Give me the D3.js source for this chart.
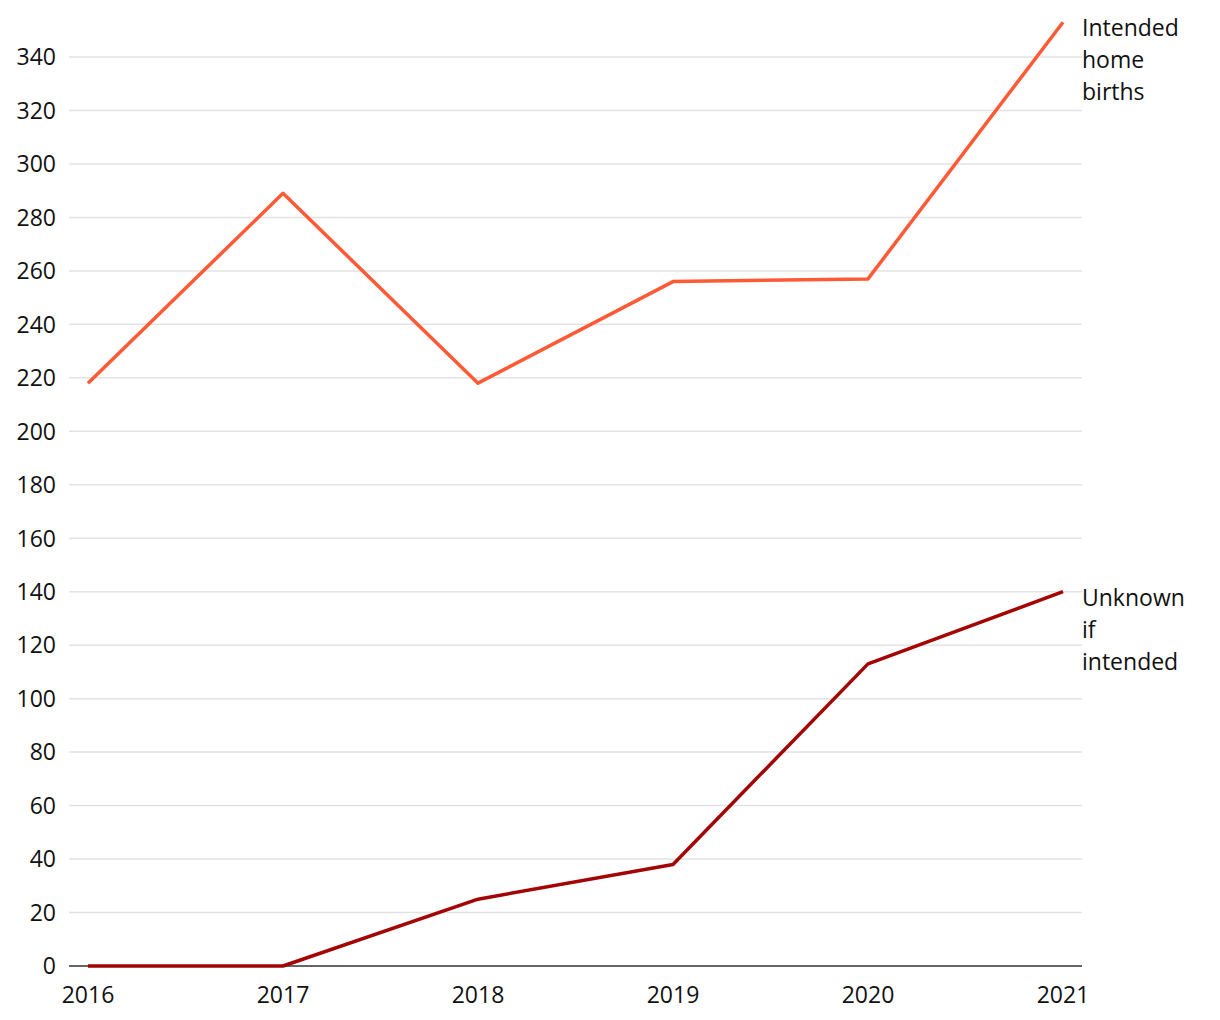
<!DOCTYPE html>
<html><head><meta charset="utf-8">
<script src="https://cdn.jsdelivr.net/npm/d3@7"></script>
<style>
body{margin:0;background:#fff;}
svg text{font-family:"Open Sans",Lato,sans-serif;fill:#111;}
</style></head>
<body><svg id="c" width="1220" height="1020"></svg>
<script>
const years = [2016, 2017, 2018, 2019, 2020, 2021];
const intended = [218, 289, 218, 256, 257, 353];
const unknown = [0, 0, 25, 38, 113, 140];
const yTicks = [0,20,40,60,80,100,120,140,160,180,200,220,240,260,280,300,320,340];
const seriesNames = [["Intended","home","births"],["Unknown","if","intended"]];
const colors = ["#ff5a36","#a30505"];

const svg = d3.select("#c");
const x = d3.scaleLinear().domain([2016,2021]).range([88,1063]);
const y = d3.scaleLinear().domain([0,340]).range([966,57]);

// grid
svg.append("g").selectAll("line").data(yTicks.filter(d=>d>0)).join("line")
  .attr("x1",69).attr("x2",1082).attr("y1",d=>y(d)).attr("y2",d=>y(d))
  .attr("stroke","#e3e3e3").attr("stroke-width",1.5);
// y labels
svg.append("g").selectAll("text").data(yTicks).join("text")
  .attr("x",56).attr("y",d=>y(d)).attr("dy","0.36em").attr("text-anchor","end")
  .attr("font-size",23).text(d=>d);
// x labels
svg.append("g").selectAll("text").data(years).join("text")
  .attr("x",d=>x(d)).attr("y",1003).attr("text-anchor","middle")
  .attr("font-size",23).text(d=>d);
// zero line
svg.append("line").attr("x1",69).attr("x2",1082).attr("y1",y(0)).attr("y2",y(0))
  .attr("stroke","#333").attr("stroke-width",1.5);

const line = d3.line().x((d,i)=>x(years[i])).y(d=>y(d));
[intended, unknown].forEach((s,k)=>{
  svg.append("path").datum(s).attr("d",line).attr("fill","none")
    .attr("stroke",colors[k]).attr("stroke-width",3.5).attr("stroke-linejoin","round");
  const t = svg.append("text").attr("x",1082).attr("y",y(s[s.length-1])+14).attr("font-size",23);
  seriesNames[k].forEach((w,j)=>{
    t.append("tspan").attr("x",1082).attr("dy", j===0?0:32).text(w);
  });
});
</script></body></html>
